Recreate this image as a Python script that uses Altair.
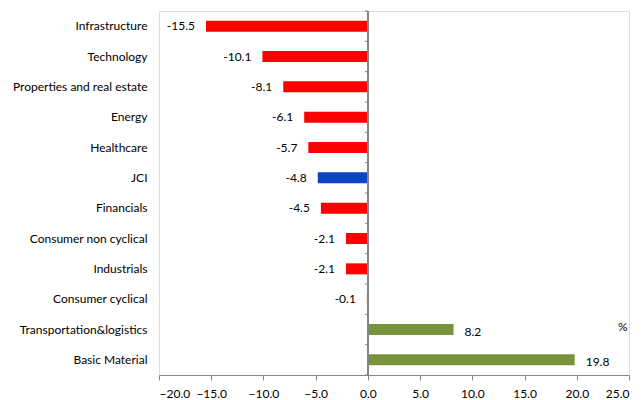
import altair as alt
import pandas as pd

categories = ["Infrastructure", "Technology", "Properties and real estate", "Energy",
              "Healthcare", "JCI", "Financials", "Consumer non cyclical", "Industrials",
              "Consumer cyclical", "Transportation&logistics", "Basic Material"]
values = [-15.5, -10.1, -8.1, -6.1, -5.7, -4.8, -4.5, -2.1, -2.1, -0.1, 8.2, 19.8]
groups = ["neg", "neg", "neg", "neg", "neg", "jci", "neg", "neg", "neg", "neg", "pos", "pos"]
x_ticks = [-20, -15, -10, -5, 0, 5, 10, 15, 20, 25]

df = pd.DataFrame({"cat": categories, "val": values, "grp": groups})
df["lbl"] = df["val"].map(lambda v: f"{v:.1f}")
neg = df[df["val"] < 0]
pos = df[df["val"] >= 0]

FONT = "Lato"
xscale = alt.Scale(domain=[-20, 25], nice=False, zero=False)
yscale = alt.Scale(domain=categories, paddingInner=0, paddingOuter=0)

base = alt.Chart(df)

bars = base.mark_bar(size=11).encode(
    x=alt.X("val:Q", scale=xscale,
            axis=alt.Axis(values=x_ticks, format=".1f", title=None, grid=False,
                          domainColor="#868686", tickColor="#868686", tickSize=5,
                          labelPadding=8, labelFont=FONT, labelFontSize=12,
                          labelColor="#000000")),
    x2=alt.datum(0),
    y=alt.Y("cat:N", scale=yscale, sort=categories,
            axis=alt.Axis(title=None, domain=False, ticks=False, labelPadding=12,
                          labelFont=FONT, labelFontSize=12, labelColor="#000000")),
    color=alt.Color("grp:N", scale=alt.Scale(domain=["neg", "jci", "pos"],
                                             range=["#FF0000", "#0B44C4", "#77933C"]),
                    legend=None),
)

neg_text = alt.Chart(neg).mark_text(align="right", dx=-11, font=FONT, fontSize=12,
                                     color="#000000").encode(
    x=alt.X("val:Q", scale=xscale), y=alt.Y("cat:N", scale=yscale, sort=categories),
    text="lbl:N")

pos_text = alt.Chart(pos).mark_text(align="left", dx=11, dy=2, font=FONT, fontSize=12,
                                     color="#000000").encode(
    x=alt.X("val:Q", scale=xscale), y=alt.Y("cat:N", scale=yscale, sort=categories),
    text="lbl:N")

zero_axis = alt.Chart(df).mark_rule(color="#868686").encode(
    x=alt.datum(0), y=alt.value(0), y2=alt.value(364))

bdf = pd.DataFrame({"cat": categories})
tick_start = alt.Chart(bdf).mark_rule(color="#868686").encode(
    x=alt.datum(0), x2=alt.datum(-0.3),
    y=alt.Y("cat:N", scale=yscale, sort=categories, bandPosition=0))
tick_end = alt.Chart(bdf.tail(1)).mark_rule(color="#868686").encode(
    x=alt.datum(0), x2=alt.datum(-0.3),
    y=alt.Y("cat:N", scale=yscale, sort=categories, bandPosition=1))

pct = alt.Chart(pd.DataFrame({"t": ["%"]})).mark_text(
    font=FONT, fontSize=12, color="#000000", align="center", dy=-3).encode(
    x=alt.datum(24.4), y=alt.datum("Transportation&logistics"), text="t:N")

chart = alt.layer(bars, neg_text, pos_text, zero_axis, tick_start, tick_end, pct).properties(
    width=470, height=364,
    autosize=alt.AutoSizeParams(type="none"),
    padding={"left": 159, "top": 11, "right": 14, "bottom": 25},
).configure_view(stroke=None).configure(background="#ffffff")

chart.save("out.html", embed_options={"renderer": "svg", "actions": False})
